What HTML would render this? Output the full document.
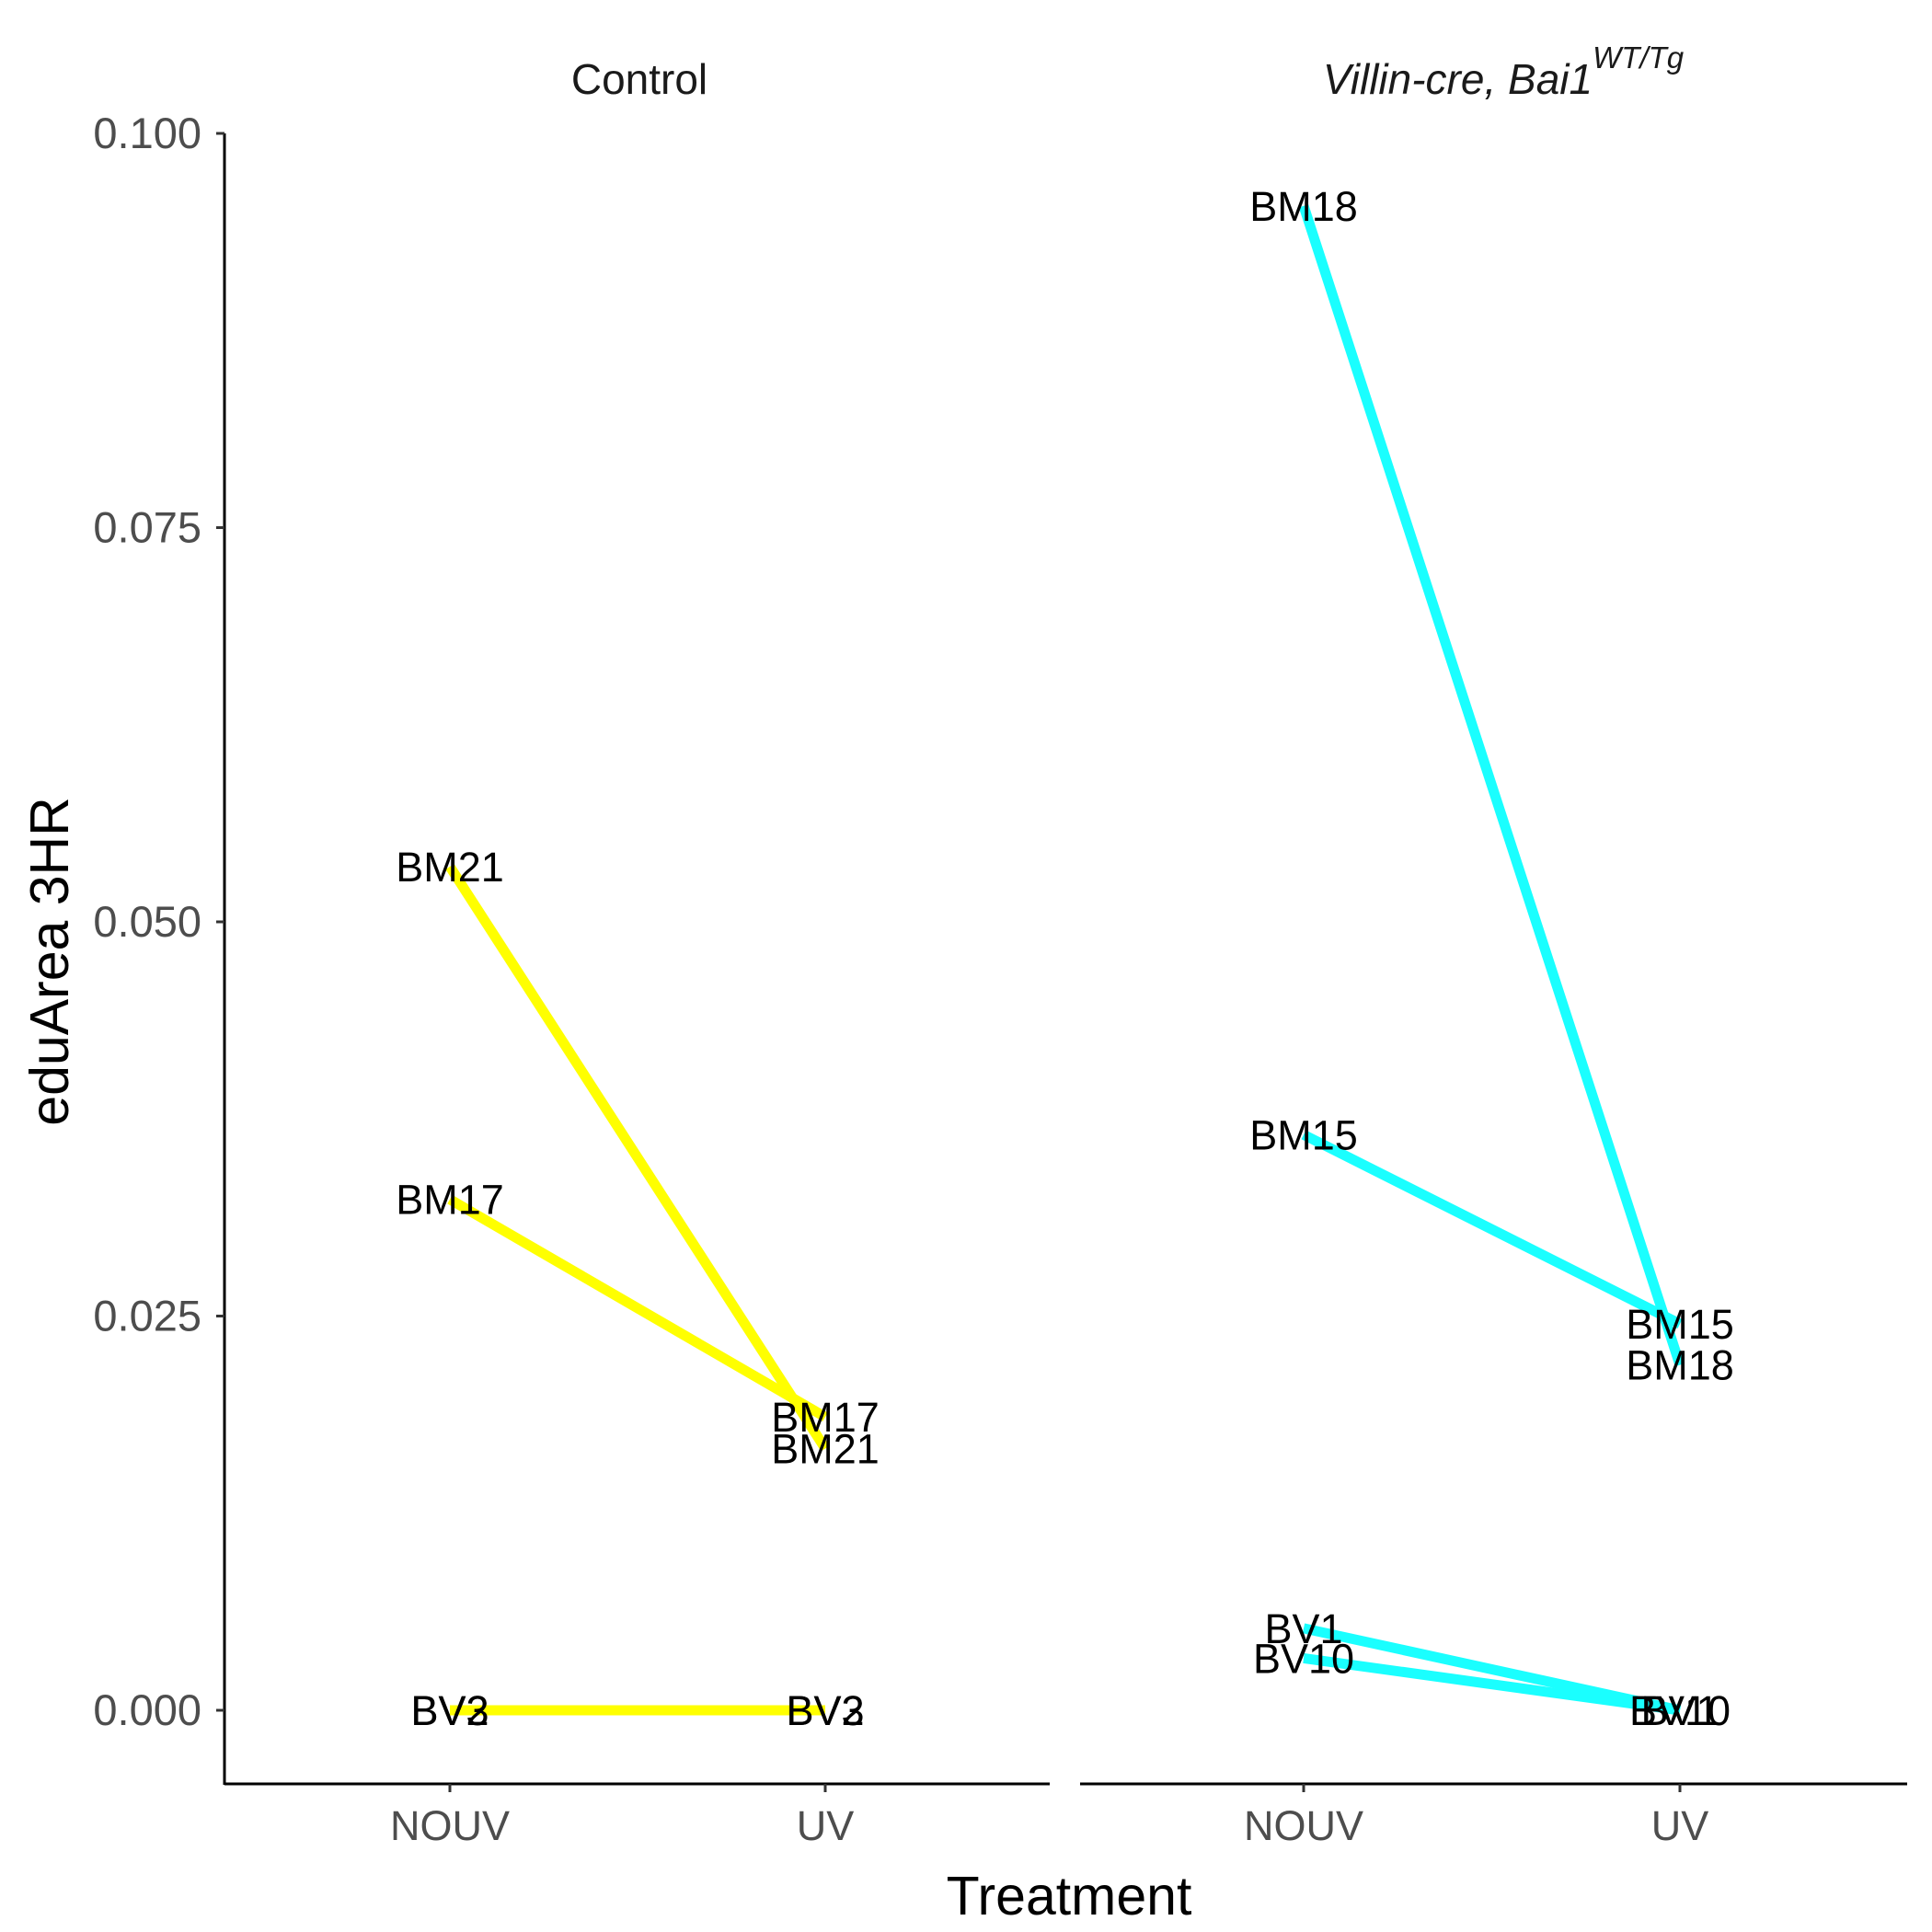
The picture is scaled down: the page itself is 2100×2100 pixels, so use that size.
<!DOCTYPE html>
<html><head><meta charset="utf-8"><style>
html,body{margin:0;padding:0;background:#fff;}
svg{display:block;font-family:"Liberation Sans",sans-serif;}
</style></head><body>
<svg id="chart" width="2100" height="2100" viewBox="0 0 2100 2100" xmlns="http://www.w3.org/2000/svg">
<rect width="2100" height="2100" fill="#fff"/>
<g id="strips">
<text x="695" y="102" font-size="46" text-anchor="middle" fill="#1a1a1a">Control</text>
<text x="1634" y="102" font-size="46" text-anchor="middle" fill="#1a1a1a" font-style="italic">Villin-cre, Bai1<tspan dy="-28" font-size="33">WT/Tg</tspan></text>
</g>
<g id="axes"></g>
<g id="marks"></g>
<text x="1162" y="2081" font-size="59" text-anchor="middle">Treatment</text>
<text transform="translate(74,1045) rotate(-90)" font-size="59" text-anchor="middle">eduArea 3HR</text>
</svg>
<script>
const yTicks = [0, 0.025, 0.05, 0.075, 0.1];
const yTickLabels = ["0.000","0.025","0.050","0.075","0.100"];
const xCategories = ["NOUV","UV"];
const controlIds = ["BM21","BM17","BV2","BV3"];
const controlNouv = [0.0535, 0.0324, 0.0, 0.0];
const controlUv = [0.0166, 0.0186, 0.0, 0.0];
const villinIds = ["BM18","BM15","BV1","BV10"];
const villinNouv = [0.0954, 0.0365, 0.0052, 0.0033];
const villinUv = [0.0219, 0.0245, 0.0, 0.0];

const NS = "http://www.w3.org/2000/svg";
function y(v){ return 1859 - v * (1859 - 145) / 0.1; }
const panels = [
  {x0:244, x1:1141, cx:[489,897], ids:controlIds, a:controlNouv, b:controlUv, color:"#ffff00", name:"control"},
  {x0:1174, x1:2073, cx:[1417,1826], ids:villinIds, a:villinNouv, b:villinUv, color:"#1affff", name:"villin"}
];
function mk(tag, attrs, parent){
  const e = document.createElementNS(NS, tag);
  for (const k in attrs) e.setAttribute(k, attrs[k]);
  parent.appendChild(e); return e;
}
const axes = document.getElementById('axes');
const marks = document.getElementById('marks');
const ya = mk('line', {x1:244, x2:244, y1:145, y2:1940, stroke:'#000', 'stroke-width':3}, axes);


yTicks.forEach((t,i)=>{
  const tk = mk('line', {x1:235, x2:244, y1:y(t), y2:y(t), stroke:'#333', 'stroke-width':3}, axes);
  
  
  const tl = mk('text', {x:219, y:y(t)+16, 'font-size':47, 'text-anchor':'end', fill:'#4d4d4d'}, axes);
  
  
  tl.textContent = yTickLabels[i];
});
panels.forEach(p=>{
  const xl = mk('line', {x1:p.x0, x2:p.x1, y1:1939, y2:1939, stroke:'#000', 'stroke-width':3}, axes);
  
  
  xCategories.forEach((c,i)=>{
    const tk = mk('line', {x1:p.cx[i], x2:p.cx[i], y1:1939, y2:1948, stroke:'#333', 'stroke-width':3}, axes);
    
    
    const tl = mk('text', {x:p.cx[i], y:2000, 'font-size':45, 'text-anchor':'middle', fill:'#4d4d4d'}, axes);
    
    
    tl.textContent = c;
  });
  p.ids.forEach((id,i)=>{
    const ln = mk('line', {x1:p.cx[0], y1:y(p.a[i]), x2:p.cx[1], y2:y(p.b[i]), stroke:p.color, 'stroke-width':11}, marks);
    
    
  });
  p.ids.forEach((id,i)=>{
    [p.a[i], p.b[i]].forEach((v,j)=>{
      const t = mk('text', {x:p.cx[j], y:y(v)+16, 'font-size':45, 'text-anchor':'middle', fill:'#000'}, marks);
      
      
      t.textContent = id;
    });
  });
});
</script>
</body></html>
